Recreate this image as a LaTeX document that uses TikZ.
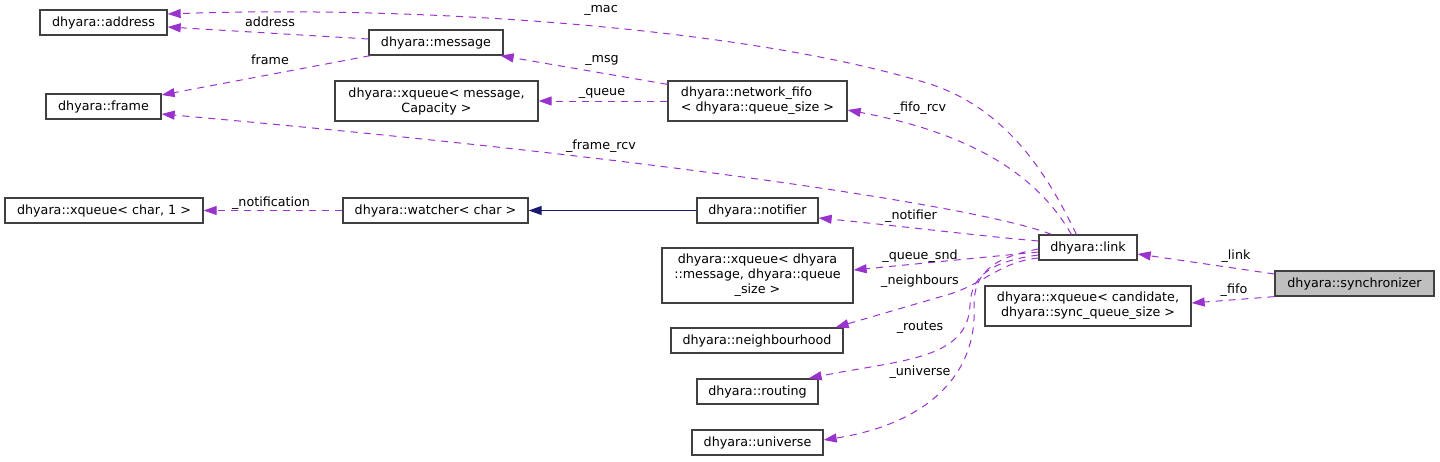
\documentclass[tikz,border=0pt]{standalone}
\usepackage{fontspec}
\setmainfont{DejaVu Sans}
\usetikzlibrary{arrows.meta}
\definecolor{edgec}{HTML}{9A32CD}
\definecolor{inhc}{HTML}{191970}
\definecolor{boxc}{HTML}{404040}
\definecolor{selc}{HTML}{BFBFBF}
\begin{document}
\begin{tikzpicture}[x=1pt,y=-1pt,
  font=\fontsize{12.7}{15}\selectfont,
  cls/.style={draw=boxc, line width=1.3pt, inner sep=0pt, align=center, minimum height=25pt},
  mem/.style={draw=edgec, line width=1pt, dash pattern=on 7pt off 6pt, -{Triangle[length=13pt,width=9pt]}},
  inh/.style={draw=inhc, line width=1pt, -{Triangle[length=13pt,width=9pt]}},
  lbl/.style={inner sep=0pt, text=black}]
\useasboundingbox (0,0) rectangle (1440,461);
% nodes
\node[cls, minimum width=127pt] (address) at (103.5,22.5) {dhyara::address};
\node[cls, minimum width=134pt] (message) at (436,42.5) {dhyara::message};
\node[cls, minimum width=115pt] (frame) at (103.5,106.5) {dhyara::frame};
\node[cls, minimum width=203pt, minimum height=40pt] (xqcap) at (436.5,101) {dhyara::xqueue< message,\\Capacity >};
\node[cls, minimum width=179pt, minimum height=40pt, align=left] (nfifo) at (757.5,101) {dhyara::network\_fifo\\< dhyara::queue\_size >};
\node[cls, minimum width=198pt] (xqchar) at (104,210.5) {dhyara::xqueue< char, 1 >};
\node[cls, minimum width=185pt] (watcher) at (435.5,210.5) {dhyara::watcher< char >};
\node[cls, minimum width=121pt] (notifier) at (757.5,210.5) {dhyara::notifier};
\node[cls, minimum width=98pt] (link) at (1088,247.5) {dhyara::link};
\node[cls, minimum width=159pt, fill=selc] (sync) at (1354.5,283.5) {dhyara::synchronizer};
\node[cls, minimum width=191pt, minimum height=55pt] (xqsize) at (757.5,275.5) {dhyara::xqueue< dhyara\\::message, dhyara::queue\\\_size >};
\node[cls, minimum width=206pt, minimum height=40pt] (xqcand) at (1088,306) {dhyara::xqueue< candidate,\\dhyara::sync\_queue\_size >};
\node[cls, minimum width=172pt] (neigh) at (757,340.5) {dhyara::neighbourhood};
\node[cls, minimum width=121pt] (routing) at (757.5,391.5) {dhyara::routing};
\node[cls, minimum width=131pt] (universe) at (757.5,442.5) {dhyara::universe};
% edges
\draw[mem] ([yshift=3.5pt]message.west) -- ([yshift=-4.5pt]address.east);
\node[lbl] (laddress) at (270,22) {address};
\draw[mem] ([xshift=2pt]message.south west) -- ([yshift=11.5pt]frame.east);
\node[lbl] (lframe) at (270,60) {frame};
\draw[mem] ([xshift=38pt]link.north west) .. controls (1050,180) and (1010,110) .. (930,84)
  .. controls (750,28) and (420,5) .. ([yshift=8.5pt]address.east);
\node[lbl] (lmac) at (601,10) {\_mac};
\draw[mem] ([yshift=-4pt]nfifo.north west) -- ([xshift=-3pt]message.south east);
\node[lbl] (lmsg) at (602,60) {\_msg};
\draw[mem] (nfifo.west) -- (xqcap.east);
\node[lbl] (lqueue) at (602,93) {\_queue};
\draw[mem] ([xshift=33pt]link.north west) .. controls (1040,180) and (980,135) .. ([yshift=-9pt]nfifo.east);
\node[lbl] (lfiforcv) at (920,108) {\_fifo\_rcv};
\draw[mem] ([xshift=13pt]link.north west) .. controls (990,210) and (700,162) .. ([yshift=-7.5pt]frame.east);
\node[lbl] (lframercv) at (601,146) {\_frame\_rcv};
\draw[inh] (notifier.west) -- (watcher.east);
\draw[mem] (watcher.west) -- (xqchar.east);
\node[lbl] (lnotification) at (271,203) {\_notification};
\draw[mem] ([yshift=6.5pt]link.west) .. controls (980,236) and (900,226) .. ([yshift=-7.5pt]notifier.east);
\node[lbl] (lnotifier) at (911,216) {\_notifier};
\draw[mem] ([yshift=-4.5pt]link.west) -- ([yshift=5.5pt]xqsize.east);
\node[lbl] (lqueuesnd) at (920,256) {\_queue\_snd};
\draw[mem] ([yshift=-10.5pt]link.west) .. controls (1000,262) and (985,283) .. (950,294) -- ([xshift=-8pt]neigh.north east);
\node[lbl] (lneigh) at (920,281) {\_neighbours};
\draw[mem] ([yshift=-7.5pt]link.west) .. controls (985,262) and (971,280) .. (970,305)
  .. controls (968,360) and (900,360) .. ([xshift=-10pt]routing.north east);
\node[lbl] (lroutes) at (920,328) {\_routes};
\draw[mem] ([yshift=-1.5pt]link.west) .. controls (990,258) and (974,275) .. (974,305)
  .. controls (978,380) and (920,425) .. ([yshift=2.5pt]universe.east);
\node[lbl] (luniverse) at (920,372) {\_universe};
\draw[mem] ([yshift=9.5pt]sync.west) -- ([yshift=-6.5pt]link.east);
\node[lbl] (llink) at (1236,256) {\_link};
\draw[mem] (sync.south west) -- ([yshift=3pt]xqcand.east);
\node[lbl] (lfifo) at (1234,290) {\_fifo};
\end{tikzpicture}
\end{document}
